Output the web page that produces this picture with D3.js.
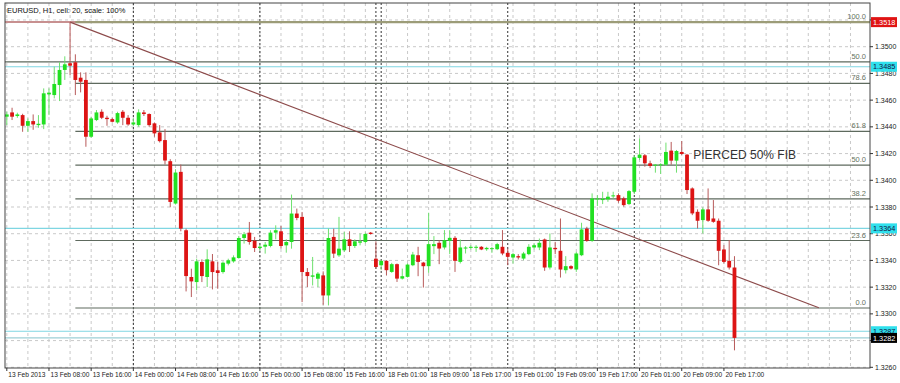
<!DOCTYPE html>
<html>
<head>
<meta charset="utf-8">
<script src="https://cdn.jsdelivr.net/npm/d3@7"></script>
<style>
  body { margin: 0; background: #fff; }
  svg { display: block; }
  text { font-family: Arial, "Liberation Sans", sans-serif; }
</style>
</head>
<body>
<div id="chart"></div>
<script>
// EURUSD H1 bars, 13 Feb 2013 00:00 .. 20 Feb 2013 18:00 (bar index = position)
const opens = [
  1.34476, 1.34508, 1.34481, 1.34488, 1.34408, 1.34443, 1.34413, 1.34418, 1.34643, 1.34638,
  1.34713, 1.34826, 1.34876, 1.34883, 1.34768, 1.34751, 1.34326, 1.34451, 1.34513, 1.34468,
  1.34458, 1.34433, 1.34513, 1.34468, 1.34418, 1.34413, 1.34508, 1.34496, 1.34426, 1.34358,
  1.34301, 1.34143, 1.33826, 1.34063, 1.33626, 1.33276, 1.33238, 1.33388, 1.33276, 1.33393,
  1.33326, 1.33313, 1.33376, 1.33393, 1.33418, 1.33568, 1.33608, 1.33548, 1.33493, 1.33503,
  1.33508, 1.33608, 1.33618, 1.33513, 1.33538, 1.33751, 1.33726, 1.33313, 1.33278, 1.33263,
  1.33288, 1.33138, 1.33576, 1.33438, 1.33476, 1.33558, 1.33508, 1.33533, 1.33538, 1.33608,
  1.33413, 1.33364, 1.33397, 1.33314, 1.33372, 1.33264, 1.33277, 1.33364, 1.33439, 1.33384,
  1.33357, 1.33507, 1.33532, 1.33497, 1.33547, 1.33569, 1.33389, 1.33489, 1.33494, 1.33497,
  1.33502, 1.33484, 1.33489, 1.33484, 1.33502, 1.33457, 1.33422, 1.33432, 1.33414, 1.33447,
  1.33497, 1.33497, 1.33557, 1.33347, 1.33494, 1.33472, 1.33327, 1.33357, 1.33332, 1.33439,
  1.33639, 1.33547, 1.33857, 1.33852, 1.33857, 1.33882, 1.33889, 1.33864, 1.33822, 1.33914,
  1.34167, 1.34187, 1.34127, 1.34112, 1.34112, 1.34117, 1.34222, 1.34147, 1.34212, 1.34192,
  1.33939, 1.33764, 1.33702, 1.33782, 1.33714, 1.33697, 1.33482, 1.33397, 1.33347
]
const highs = [
  1.34513, 1.34543, 1.34506, 1.34498, 1.34463, 1.34493, 1.34488, 1.34688, 1.34688, 1.34851,
  1.34883, 1.34928, 1.35184, 1.34943, 1.34808, 1.34808, 1.34476, 1.34526, 1.34531, 1.34483,
  1.34468, 1.34513, 1.34526, 1.34488, 1.34463, 1.34531, 1.34526, 1.34501, 1.34433, 1.34413,
  1.34383, 1.34158, 1.34083, 1.34118, 1.33638, 1.33338, 1.33413, 1.33408, 1.33483, 1.33448,
  1.33388, 1.33393, 1.33413, 1.33438, 1.33583, 1.33613, 1.33688, 1.33576, 1.33518, 1.33538,
  1.33626, 1.33663, 1.33658, 1.33558, 1.33893, 1.33788, 1.33763, 1.33343, 1.33426, 1.33313,
  1.33318, 1.33638, 1.33638, 1.33726, 1.33613, 1.33618, 1.33558, 1.33601, 1.33608, 1.33613,
  1.33543, 1.33402, 1.33402, 1.33382, 1.33377, 1.33339, 1.33377, 1.33464, 1.33502, 1.33389,
  1.33757, 1.33582, 1.33552, 1.33627, 1.33627, 1.33582, 1.33557, 1.33507, 1.33514, 1.33514,
  1.33507, 1.33502, 1.33502, 1.33532, 1.33627, 1.33489, 1.33457, 1.33447, 1.33464, 1.33522,
  1.33527, 1.33564, 1.33564, 1.33602, 1.33539, 1.33714, 1.33432, 1.33364, 1.33464, 1.33682,
  1.33652, 1.33902, 1.33889, 1.33914, 1.33914, 1.33914, 1.33902, 1.33877, 1.33927, 1.34187,
  1.34314, 1.34197, 1.34147, 1.34122, 1.34127, 1.34282, 1.34287, 1.34227, 1.34294, 1.34197,
  1.33947, 1.33782, 1.33797, 1.33939, 1.33852, 1.33714, 1.33514, 1.33552, 1.33432
]
const lows = [
  1.34413, 1.34451, 1.34468, 1.34363, 1.34363, 1.34378, 1.34393, 1.34383, 1.34488, 1.34613,
  1.34593, 1.34751, 1.34788, 1.34638, 1.34658, 1.34251, 1.34318, 1.34443, 1.34458, 1.34408,
  1.34433, 1.34423, 1.34413, 1.34408, 1.34408, 1.34401, 1.34481, 1.34401, 1.34326, 1.34283,
  1.34118, 1.33798, 1.33818, 1.33618, 1.33168, 1.33126, 1.33176, 1.33238, 1.33201, 1.33183,
  1.33188, 1.33301, 1.33363, 1.33383, 1.33413, 1.33526, 1.33518, 1.33463, 1.33473, 1.33451,
  1.33498, 1.33558, 1.33488, 1.33458, 1.33488, 1.33701, 1.33088, 1.33201, 1.33213, 1.33201,
  1.33068, 1.33063, 1.33418, 1.33426, 1.33463, 1.33463, 1.33493, 1.33513, 1.33528, 1.33593,
  1.33338, 1.33327, 1.33289, 1.33307, 1.33239, 1.33257, 1.33272, 1.33357, 1.33282, 1.33197,
  1.33307, 1.33447, 1.33372, 1.33482, 1.33447, 1.33314, 1.33377, 1.33452, 1.33482, 1.33464,
  1.33477, 1.33472, 1.33457, 1.33477, 1.33439, 1.33364, 1.33377, 1.33407, 1.33402, 1.33439,
  1.33482, 1.33477, 1.33322, 1.33332, 1.33447, 1.33272, 1.33302, 1.33332, 1.33314, 1.33432,
  1.33539, 1.33539, 1.33807, 1.33822, 1.33839, 1.33864, 1.33832, 1.33802, 1.33814, 1.33897,
  1.34152, 1.34102, 1.34092, 1.34057, 1.34047, 1.34107, 1.34117, 1.34057, 1.34189, 1.33897,
  1.33739, 1.33639, 1.33602, 1.33689, 1.33682, 1.33364, 1.33377, 1.33332, 1.32727
]
const closes = [
  1.34493, 1.34476, 1.34493, 1.34408, 1.34443, 1.34418, 1.34423, 1.34651, 1.34656, 1.34721,
  1.34826, 1.34868, 1.34858, 1.34751, 1.34738, 1.34326, 1.34463, 1.34508, 1.34468, 1.34458,
  1.34438, 1.34503, 1.34468, 1.34418, 1.34433, 1.34508, 1.34496, 1.34413, 1.34351, 1.34293,
  1.34148, 1.33838, 1.34058, 1.33638, 1.33283, 1.33243, 1.33393, 1.33283, 1.33408, 1.33313,
  1.33306, 1.33383, 1.33401, 1.33423, 1.33568, 1.33596, 1.33538, 1.33493, 1.33503, 1.33518,
  1.33608, 1.33626, 1.33508, 1.33538, 1.33751, 1.33718, 1.33313, 1.33283, 1.33288, 1.33301,
  1.33138, 1.33568, 1.33451, 1.33488, 1.33558, 1.33508, 1.33543, 1.33543, 1.33598, 1.33598,
  1.33351, 1.33397, 1.33327, 1.33372, 1.33264, 1.33282, 1.33369, 1.33444, 1.33389, 1.33357,
  1.33522, 1.33522, 1.33489, 1.33552, 1.33569, 1.33397, 1.33497, 1.33497, 1.33502, 1.33502,
  1.33482, 1.33494, 1.33492, 1.33522, 1.33452, 1.33427, 1.33447, 1.33422, 1.33452, 1.33502,
  1.33514, 1.33532, 1.33347, 1.33497, 1.33484, 1.33332, 1.33357, 1.33339, 1.33452, 1.33632,
  1.33547, 1.33864, 1.33864, 1.33862, 1.33877, 1.33887, 1.33847, 1.33814, 1.33919, 1.34172,
  1.34192, 1.34127, 1.34107, 1.34117, 1.34119, 1.34212, 1.34147, 1.34219, 1.34197, 1.33927,
  1.33752, 1.33697, 1.33782, 1.33697, 1.33689, 1.33472, 1.33389, 1.33347, 1.32820
]

const xLabelIdx = [0, 8, 16, 24, 32, 40, 48, 56, 64, 72, 80, 88, 96, 104, 112, 120, 128, 136]
const xLabels = ['13 Feb 2013', '13 Feb 08:00', '13 Feb 16:00', '14 Feb 00:00', '14 Feb 08:00',
  '14 Feb 16:00', '15 Feb 00:00', '15 Feb 08:00', '15 Feb 16:00', '18 Feb 01:00', '18 Feb 09:00',
  '18 Feb 17:00', '19 Feb 01:00', '19 Feb 09:00', '19 Feb 17:00', '20 Feb 01:00', '20 Feb 09:00',
  '20 Feb 17:00']
const daySeparators = [24, 48, 70, 71, 95, 119]
const yTicks = [1.3260, 1.3280, 1.3300, 1.3320, 1.3340, 1.3360, 1.3380, 1.3400,
  1.3420, 1.3440, 1.3460, 1.3480, 1.3500, 1.3520]

// fibonacci retracement drawn from the 13 Feb high down to 1.33044
const fibHigh = 1.35184
const fibLow = 1.33044
const fibStart = 13
const fibLevels = [0, 23.6, 38.2, 50, 61.8, 78.6, 100]
const otherFib = { price: 1.34886, label: '50.0' }

const resistance = 1.35184
const cyanLevels = [1.3485, 1.3364, 1.3287]
const bidPrice = 1.3282
const trendFrom = { i: 12, p: 1.35184 }
const trendTo = { i: 154, p: 1.33045 }
const note = { i: 130, p: 1.3416, text: 'PIERCED 50% FIB' }

const width = 900
const height = 383
const plot = { left: 5, right: 870, top: 3, bottom: 368 }

const svg = d3
  .select('#chart')
  .append('svg')
  .attr('width', width)
  .attr('height', height)

const x = d3.scaleLinear().domain([0, 138]).range([6.8, 6.8 + 5.273 * 138])
const y = d3.scaleLinear().domain([1.326, 1.35]).range([367.3, 46.7])

svg.append('defs').append('clipPath').attr('id', 'plotclip')
  .append('rect')
  .attr('x', plot.left).attr('y', plot.top)
  .attr('width', plot.right - plot.left).attr('height', plot.bottom - plot.top)

const g = svg.append('g').attr('clip-path', 'url(#plotclip)')

// grid
const gridIdx = d3.range(0, 165, 4)
g.selectAll('.vgrid')
  .data(gridIdx)
  .enter()
  .append('line')
  .attr('x1', d => x(d)).attr('x2', d => x(d))
  .attr('y1', plot.top).attr('y2', plot.bottom)
  .attr('stroke', '#c9c9c9')
  .attr('stroke-dasharray', '3,3')

g.selectAll('.hgrid')
  .data(yTicks)
  .enter()
  .append('line')
  .attr('x1', plot.left).attr('x2', plot.right)
  .attr('y1', d => y(d)).attr('y2', d => y(d))
  .attr('stroke', '#c9c9c9')
  .attr('stroke-dasharray', '3,3')

g.selectAll('.sep')
  .data(daySeparators)
  .enter()
  .append('line')
  .attr('x1', d => x(d)).attr('x2', d => x(d))
  .attr('y1', plot.top).attr('y2', plot.bottom)
  .attr('stroke', '#333')
  .attr('stroke-dasharray', '2,2')

// horizontal levels
g.append('line')
  .attr('x1', plot.left).attr('x2', plot.right)
  .attr('y1', y(resistance)).attr('y2', y(resistance))
  .attr('stroke', '#c89090').attr('stroke-width', 2)

g.selectAll('.cyan')
  .data(cyanLevels)
  .enter()
  .append('line')
  .attr('x1', plot.left).attr('x2', plot.right)
  .attr('y1', d => y(d)).attr('y2', d => y(d))
  .attr('stroke', '#7fd6e2').attr('stroke-width', 1.2)

g.append('line')
  .attr('x1', plot.left).attr('x2', plot.right)
  .attr('y1', y(bidPrice)).attr('y2', y(bidPrice))
  .attr('stroke', '#9ccfd6').attr('stroke-width', 1.2)

g.append('line')
  .attr('x1', plot.left).attr('x2', plot.right)
  .attr('y1', y(otherFib.price)).attr('y2', y(otherFib.price))
  .attr('stroke', '#5e6a5e').attr('stroke-width', 1.2)

const fibPrice = lvl => fibLow + (fibHigh - fibLow) * lvl / 100

g.selectAll('.fib')
  .data(fibLevels)
  .enter()
  .append('line')
  .attr('x1', x(fibStart)).attr('x2', plot.right)
  .attr('y1', d => y(fibPrice(d))).attr('y2', d => y(fibPrice(d)))
  .attr('stroke', d => d === 100 ? '#9c9c78' : '#5e6a5e')
  .attr('stroke-width', d => d === 100 ? 2.2 : 1.2)

const fibLabels = fibLevels.map(d => ({ p: fibPrice(d), t: d.toFixed(1) }))
fibLabels.push({ p: otherFib.price, t: otherFib.label })
g.selectAll('.fiblabel')
  .data(fibLabels)
  .enter()
  .append('text')
  .attr('x', 866)
  .attr('y', d => y(d.p) - 3)
  .attr('text-anchor', 'end')
  .attr('font-size', 7.5)
  .attr('fill', '#66725e')
  .text(d => d.t)

// trend line
g.append('line')
  .attr('x1', x(trendFrom.i)).attr('y1', y(trendFrom.p))
  .attr('x2', x(trendTo.i)).attr('y2', y(trendTo.p))
  .attr('stroke', '#8c4a4a').attr('stroke-width', 1.1)

// candles
const bars = opens.map((o, i) => ({ i, o, h: highs[i], l: lows[i], c: closes[i] }))

g.selectAll('.wick')
  .data(bars)
  .enter()
  .append('line')
  .attr('x1', d => x(d.i)).attr('x2', d => x(d.i))
  .attr('y1', d => y(d.h)).attr('y2', d => y(d.l))
  .attr('stroke', d => d.c >= d.o ? '#6ee06e' : '#b85a5a')
  .attr('stroke-width', 1)

g.selectAll('.body')
  .data(bars)
  .enter()
  .append('rect')
  .attr('x', d => x(d.i) - 1.9)
  .attr('width', 3.8)
  .attr('y', d => y(Math.max(d.o, d.c)))
  .attr('height', d => Math.max(1, Math.abs(y(d.o) - y(d.c))))
  .attr('fill', d => d.c >= d.o ? '#22e022' : '#dd1414')

g.append('text')
  .attr('x', x(note.i) + 1)
  .attr('y', y(note.p))
  .attr('font-size', 12)
  .attr('fill', '#333')
  .text(note.text)

// frame
svg.append('rect')
  .attr('x', plot.left).attr('y', plot.top)
  .attr('width', plot.right - plot.left).attr('height', plot.bottom - plot.top)
  .attr('fill', 'none').attr('stroke', '#444').attr('stroke-width', 1)

svg.append('text')
  .attr('x', 7).attr('y', 13)
  .attr('font-size', 7.5)
  .attr('fill', '#111')
  .text('EURUSD, H1, cell: 20, scale: 100%')

// price boxes on the right axis
const boxes = [
  { p: resistance, fill: '#e01414', color: '#fff' },
  { p: cyanLevels[0], fill: '#30e0ec', color: '#114' },
  { p: cyanLevels[1], fill: '#30e0ec', color: '#114' },
  { p: cyanLevels[2], fill: '#30e0ec', color: '#114' },
  { p: bidPrice, fill: '#000', color: '#fff' }
]

// right price axis (labels hidden under a price box are skipped)
const shownTicks = yTicks.filter(d => y(d) > plot.top &&
  boxes.every(b => Math.abs(y(b.p) - y(d)) > 4))
const yAxis = svg.append('g').attr('transform', 'translate(' + plot.right + ',0)')
yAxis.selectAll('line')
  .data(yTicks.filter(d => y(d) > plot.top))
  .enter()
  .append('line')
  .attr('x1', 0).attr('x2', 3)
  .attr('y1', d => y(d)).attr('y2', d => y(d))
  .attr('stroke', '#333')
yAxis.selectAll('text')
  .data(shownTicks)
  .enter()
  .append('text')
  .attr('x', 5)
  .attr('y', d => y(d) + 2.5)
  .attr('font-size', 7)
  .attr('fill', '#222')
  .text(d => d.toFixed(4))

const boxG = svg.selectAll('.pbox').data(boxes).enter().append('g')
boxG.append('rect')
  .attr('x', plot.right + 1).attr('width', 26)
  .attr('y', d => y(d.p) - 5).attr('height', 10)
  .attr('fill', d => d.fill)
boxG.append('text')
  .attr('x', plot.right + 3)
  .attr('y', d => y(d.p) + 2.6)
  .attr('font-size', 7.3)
  .attr('fill', d => d.color)
  .text(d => d.p.toFixed(4))

// time axis
const xAxis = svg.append('g')
xAxis.selectAll('line')
  .data(xLabelIdx)
  .enter()
  .append('line')
  .attr('x1', d => x(d)).attr('x2', d => x(d))
  .attr('y1', plot.bottom).attr('y2', plot.bottom + 3)
  .attr('stroke', '#333')
xAxis.selectAll('text')
  .data(xLabelIdx)
  .enter()
  .append('text')
  .attr('x', d => x(d) + 1.5)
  .attr('y', 377)
  .attr('font-size', 6.6)
  .attr('fill', '#222')
  .text((d, k) => xLabels[k])
</script>
</body>
</html>
